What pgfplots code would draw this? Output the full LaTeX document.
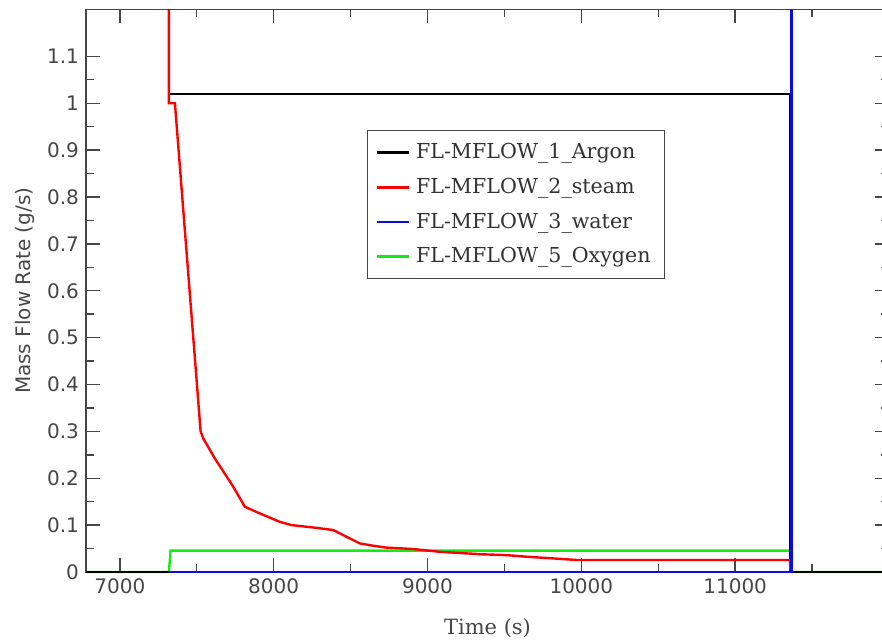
\documentclass[border=0pt]{standalone}
\usepackage{fontspec}
\setmainfont{DejaVu Sans}
\newfontfamily\seriffont{DejaVu Serif}
\usepackage{pgfplots}
\pgfplotsset{compat=1.18}
\definecolor{tickgray}{RGB}{70,70,70}
\definecolor{legtext}{RGB}{50,50,50}
\definecolor{mygreen}{RGB}{20,235,20}
\definecolor{myblue}{RGB}{10,10,235}
\begin{document}
\begin{tikzpicture}
\useasboundingbox (-43pt,-34pt) rectangle (398pt,286pt);
\begin{axis}[
  at={(0pt,0pt)}, anchor=south west,
  scale only axis, width=401.5pt, height=281.25pt,
  xmin=6780, xmax=12000, ymin=0, ymax=1.2,
  clip=false,
  xtick={7000,8000,9000,10000,11000,12000},
  ytick={0,0.1,0.2,0.3,0.4,0.5,0.6,0.7,0.8,0.9,1,1.1},
  yticklabels={0,0.1,0.2,0.3,0.4,0.5,0.6,0.7,0.8,0.9,1,1.1},
  xticklabels={7000,8000,9000,10000,11000,{}},
  minor x tick num=1, minor y tick num=1,
  tick align=inside,
  major tick length=7pt, minor tick length=4pt,
  every tick/.style={tickgray, line width=0.7pt},
  axis line style={tickgray, line width=0.8pt},
  tick label style={font=\fontsize{10}{12}\selectfont, text=tickgray},
  /pgf/number format/assume math mode=true,
  scaled ticks=false,
  unbounded coords=jump,
  xlabel={Time (s)},
  ylabel={Mass Flow Rate (g/s)},
  xlabel style={at={(axis description cs:0.5,-0.0996)}, anchor=center, font=\seriffont\fontsize{10.5}{12}\selectfont, text=tickgray},
  ylabel style={at={(axis description cs:-0.076,0.5)}, anchor=center, rotate=0, font=\fontsize{10}{12}\selectfont, text=tickgray},
  legend style={at={(0.35,0.786)}, anchor=north west, draw=tickgray, line width=0.6pt,
    font=\seriffont\fontsize{10.3}{12}\selectfont, text=legtext, row sep=4.2pt,
    inner xsep=4pt, inner ysep=4.5pt,
    nodes={inner xsep=3pt}},
  legend cell align=left,
  legend image code/.code={\draw[#1, line width=1.2pt] (0pt,0pt) -- (16pt,0pt);},
]
\addlegendimage{black}
\addlegendentry{FL-MFLOW\_1\_Argon}
\addlegendimage{red}
\addlegendentry{FL-MFLOW\_2\_steam}
\addlegendimage{myblue}
\addlegendentry{FL-MFLOW\_3\_water}
\addlegendimage{mygreen}
\addlegendentry{FL-MFLOW\_5\_Oxygen}
% Oxygen
\addplot[mygreen, line width=1.2pt, forget plot] coordinates {
(6780,0) (7319,0) (7330,0.0455) (11356,0.0455) (11362,0) (12000,0)};
% Argon
\addplot[black, line width=1.2pt, forget plot] coordinates {
(6780,0) (7318,0) (7318,nan) (7319,1.2) (7319,1.02) (11356,1.02) (11356,0) (12000,0)};
% steam
\addplot[red, line width=1.2pt, forget plot] coordinates {
(7319,1.2) (7319,1.0) (7358,1.0) (7525,0.30) (7542,0.285) (7618,0.242) (7737,0.182)
(7813,0.139) (7910,0.125) (8040,0.107) (8116,0.100) (8257,0.095) (8387,0.0895)
(8474,0.075) (8560,0.061) (8647,0.056) (8734,0.052) (8820,0.0505) (8907,0.049)
(9081,0.043) (9360,0.0377) (9514,0.036) (9644,0.0326) (9817,0.029) (9970,0.0256)
(11356,0.0256) (11360,0)};
% water
\addplot[myblue, line width=1.2pt, forget plot] coordinates {
(7319,0) (11365,0) (11365,1.2)};
\end{axis}
\end{tikzpicture}
\end{document}
